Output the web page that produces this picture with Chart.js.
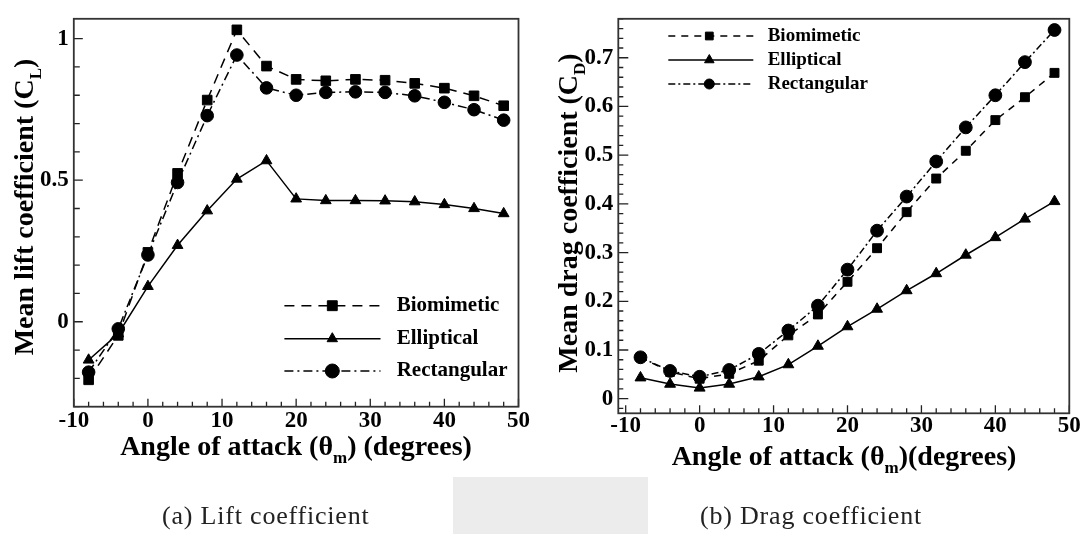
<!DOCTYPE html>
<html><head><meta charset="utf-8">
<script src="https://cdn.jsdelivr.net/npm/chart.js@4.4.1/dist/chart.umd.min.js"></script>
<style>
html,body{margin:0;padding:0;background:#fff;}
#wrap{position:relative;width:1085px;height:534px;overflow:hidden;background:#fff;}
.cv{position:absolute;top:0;}
.bg{position:absolute;background:#ececec;}
.cap{position:absolute;font-family:"Liberation Serif",serif;font-size:26px;line-height:30px;letter-spacing:0.8px;color:#222;white-space:nowrap;}
</style></head>
<body><div id="wrap">
<div class="bg" style="left:453px;top:477px;width:195px;height:57px"></div>
<div class="cv" style="left:0;width:545px;height:534px"><canvas id="lift" width="545" height="534"></canvas></div>
<div class="cv" style="left:545px;width:540px;height:534px"><canvas id="drag" width="540" height="534"></canvas></div>
<div class="cap" style="left:162px;top:501px">(a) Lift coefficient</div>
<div class="cap" style="left:700px;top:501px">(b) Drag coefficient</div>
</div>
<script>
// ---------- data ----------
const angles = [-8, -4, 0, 4, 8, 12, 16, 20, 24, 28, 32, 36, 40, 44, 48];
const seriesNames = ['Biomimetic', 'Elliptical', 'Rectangular'];

const liftBiomimetic  = [-0.205, -0.048, 0.245, 0.524, 0.783, 1.031, 0.903, 0.856, 0.851, 0.856, 0.853, 0.842, 0.825, 0.798, 0.763];
const liftElliptical  = [-0.135, -0.042, 0.125, 0.270, 0.392, 0.504, 0.569, 0.434, 0.428, 0.428, 0.427, 0.424, 0.414, 0.400, 0.382];
const liftRectangular = [-0.178, -0.025, 0.236, 0.492, 0.728, 0.942, 0.826, 0.800, 0.810, 0.812, 0.810, 0.798, 0.775, 0.749, 0.712];

const dragBiomimetic  = [0.085, 0.055, 0.041, 0.051, 0.078, 0.130, 0.173, 0.240, 0.309, 0.383, 0.452, 0.509, 0.572, 0.619, 0.669];
const dragElliptical  = [0.043, 0.030, 0.022, 0.030, 0.045, 0.070, 0.108, 0.148, 0.184, 0.222, 0.257, 0.295, 0.331, 0.369, 0.405];
const dragRectangular = [0.085, 0.057, 0.045, 0.059, 0.092, 0.140, 0.191, 0.265, 0.345, 0.415, 0.487, 0.557, 0.623, 0.691, 0.757];

const xTickLabels    = [-10, 0, 10, 20, 30, 40, 50];
const liftTickLabels = [0, 0.5, 1];
const dragTickLabels = [0, 0.1, 0.2, 0.3, 0.4, 0.5, 0.6, 0.7];

// ---------- helpers ----------
const SERIF = '"Liberation Serif", "Times New Roman", serif';
function pts(ys) { return angles.map((a, i) => ({ x: a, y: ys[i] })); }

function drawMarker(ctx, style, r, x, y) {
  ctx.save();
  ctx.fillStyle = '#000'; ctx.strokeStyle = '#000'; ctx.lineWidth = 1; ctx.setLineDash([]);
  ctx.beginPath();
  if (style === 'rect') {
    const s = r * Math.SQRT1_2; ctx.rect(x - s, y - s, 2 * s, 2 * s);
  } else if (style === 'triangle') {
    ctx.moveTo(x, y - r);
    ctx.lineTo(x + r * Math.sin(Math.PI / 3), y + r / 2);
    ctx.lineTo(x - r * Math.sin(Math.PI / 3), y + r / 2);
    ctx.closePath();
  } else {
    ctx.arc(x, y, r, 0, Math.PI * 2);
  }
  ctx.fill(); ctx.stroke();
  ctx.restore();
}

function richWidth(ctx, parts, size) {
  let w = 0;
  for (const p of parts) {
    ctx.font = 'bold ' + (p.sub ? Math.round(size * 0.62) : size) + 'px ' + SERIF;
    w += ctx.measureText(p.t).width;
  }
  return w;
}
function drawRich(ctx, parts, size, cx, by) {
  const w = richWidth(ctx, parts, size);
  let x = cx - w / 2;
  ctx.textAlign = 'left'; ctx.textBaseline = 'alphabetic'; ctx.fillStyle = '#000';
  for (const p of parts) {
    ctx.font = 'bold ' + (p.sub ? Math.round(size * 0.62) : size) + 'px ' + SERIF;
    ctx.fillText(p.t, x, by + (p.sub ? size * 0.28 : 0));
    x += ctx.measureText(p.t).width;
  }
}

function makeDatasets(b, e, r, cfg) {
  return [
    { label: seriesNames[0], data: pts(b), borderDash: cfg.dash, pointStyle: 'rect', pointRadius: cfg.rRect },
    { label: seriesNames[1], data: pts(e), borderDash: [], pointStyle: 'triangle', pointRadius: cfg.rTri },
    { label: seriesNames[2], data: pts(r), borderDash: cfg.dashDot, pointStyle: 'circle', pointRadius: cfg.rCirc }
  ].map(d => Object.assign(d, {
    borderColor: '#000', borderWidth: 1.5, backgroundColor: '#000',
    pointBackgroundColor: '#000', pointBorderColor: '#000', pointBorderWidth: 1,
    pointHoverRadius: d.pointRadius, tension: 0, fill: false
  }));
}

// plugin: frame, inward ticks, titles, legend
const decor = {
  id: 'decor',
  afterDraw(chart, args, o) {
    const ctx = chart.ctx, ca = chart.chartArea;
    const xs = chart.scales.x, ys = chart.scales.y;
    ctx.save();
    ctx.strokeStyle = '#222'; ctx.lineWidth = 1.3; ctx.setLineDash([]);
    function loop(min, max, step, fn) {
      for (let k = Math.ceil(min / step - 1e-9); k * step <= max + 1e-9; k++) fn(+(k * step).toFixed(6));
    }
    ctx.beginPath();
    loop(xs.min, xs.max, o.xMinor, v => {
      const major = xTickLabels.some(t => Math.abs(t - v) < 1e-6);
      const px = xs.getPixelForValue(v);
      ctx.moveTo(px, ca.bottom); ctx.lineTo(px, ca.bottom - (major ? o.xMajLen : o.xMinLen));
    });
    loop(ys.min, ys.max, o.yMinor, v => {
      const major = o.yMajors.some(t => Math.abs(t - v) < 1e-6);
      const py = ys.getPixelForValue(v);
      ctx.moveTo(ca.left, py); ctx.lineTo(ca.left + (major ? o.yMajLen : o.yMinLen), py);
    });
    ctx.stroke();
    ctx.strokeStyle = '#333'; ctx.lineWidth = 1.8;
    ctx.strokeRect(ca.left, ca.top, ca.right - ca.left, ca.bottom - ca.top);
    drawRich(ctx, o.xTitle, o.titleSize, o.xTitleX, o.xTitleY);
    ctx.save();
    ctx.translate(o.yTitleX, o.yTitleY);
    ctx.rotate(-Math.PI / 2);
    drawRich(ctx, o.yTitle, o.titleSize, 0, 0);
    ctx.restore();
    chart.data.datasets.forEach((d, i) => {
      const y = o.legY[i];
      ctx.save();
      ctx.strokeStyle = '#000'; ctx.lineWidth = 1.5; ctx.setLineDash(d.borderDash || []);
      ctx.beginPath(); ctx.moveTo(o.legX0, y); ctx.lineTo(o.legX1, y); ctx.stroke();
      ctx.restore();
      drawMarker(ctx, d.pointStyle, o.legR[i], o.legXm, y);
      ctx.font = 'bold ' + o.legSize + 'px ' + SERIF;
      ctx.fillStyle = '#000'; ctx.textAlign = 'left'; ctx.textBaseline = 'middle';
      ctx.fillText(d.label, o.legXt, y);
    });
    ctx.restore();
  }
};

function fmt(v) { return String(v); }

function makeChart(id, datasets, s) {
  return new Chart(document.getElementById(id), {
    type: 'line',
    data: { datasets },
    plugins: [decor],
    options: {
      responsive: false, animation: false, devicePixelRatio: 1,
      layout: { padding: { left: 0, top: s.top, right: s.right, bottom: 0 } },
      plugins: { legend: { display: false }, tooltip: { enabled: false }, decor: s.decor },
      scales: {
        x: {
          type: 'linear', min: s.xMin, max: s.xMax,
          afterBuildTicks: sc => { sc.ticks = xTickLabels.map(v => ({ value: v })); },
          afterFit: sc => { sc.height = s.xH; },
          grid: { display: false, drawTicks: false }, border: { display: false },
          ticks: { callback: fmt, padding: s.xPad, maxRotation: 0, autoSkip: false, color: '#000',
                   font: { family: SERIF, weight: 'bold', size: 23 } }
        },
        y: {
          type: 'linear', min: s.yMin, max: s.yMax,
          afterBuildTicks: sc => { sc.ticks = s.yTicks.map(v => ({ value: v })); },
          afterFit: sc => { sc.width = s.yW; },
          grid: { display: false, drawTicks: false }, border: { display: false },
          ticks: { callback: fmt, padding: 5, autoSkip: false, color: '#000',
                   font: { family: SERIF, weight: 'bold', size: 23 } }
        }
      }
    }
  });
}

makeChart('lift', makeDatasets(liftBiomimetic, liftElliptical, liftRectangular,
  { dash: [10, 7], dashDot: [9, 4, 2, 4], rRect: 6.8, rTri: 6.2, rCirc: 6.3 }), {
  top: 15.7, right: 545 - 518.5, xH: 534 - 406.7, yW: 73.8, xPad: 1,
  xMin: -10, xMax: 50, yMin: -0.3, yMax: 1.07, yTicks: liftTickLabels,
  decor: {
    xMinor: 2, yMinor: 0.1, yMajors: liftTickLabels, xMajLen: 8, xMinLen: 5, yMajLen: 9, yMinLen: 6,
    titleSize: 28,
    xTitle: [{ t: 'Angle of attack (θ' }, { t: 'm', sub: true }, { t: ') (degrees)' }],
    xTitleX: 296, xTitleY: 455,
    yTitle: [{ t: 'Mean lift coefficient (C' }, { t: 'L', sub: true }, { t: ')' }],
    yTitleX: 33, yTitleY: 207,
    legY: [305.7, 338.7, 371], legX0: 284.4, legX1: 380.5, legXm: 332.3, legXt: 396.7,
    legR: [7, 6, 7], legSize: 21
  }
});

makeChart('drag', makeDatasets(dragBiomimetic, dragElliptical, dragRectangular,
  { dash: [7, 6], dashDot: [7, 3, 2, 3], rRect: 6.3, rTri: 6.3, rCirc: 6.4 }), {
  top: 7.3, right: 540 - 524.3, xH: 534 - 413.3, yW: 73.3, xPad: -1,
  xMin: -11, xMax: 50, yMin: -0.03, yMax: 0.78, yTicks: dragTickLabels,
  decor: {
    xMinor: 2, yMinor: 0.02, yMajors: dragTickLabels, xMajLen: 8, xMinLen: 5, yMajLen: 10, yMinLen: 5,
    titleSize: 28,
    xTitle: [{ t: 'Angle of attack (θ' }, { t: 'm', sub: true }, { t: ')(degrees)' }],
    xTitleX: 299, xTitleY: 465,
    yTitle: [{ t: 'Mean drag coefficient (C' }, { t: 'D', sub: true }, { t: ')' }],
    yTitleX: 32, yTitleY: 213,
    legY: [36, 60, 84], legX0: 123.3, legX1: 208.3, legXm: 164.3, legXt: 222.7,
    legR: [5.5, 5.5, 5], legSize: 19
  }
});
</script>
</body></html>
